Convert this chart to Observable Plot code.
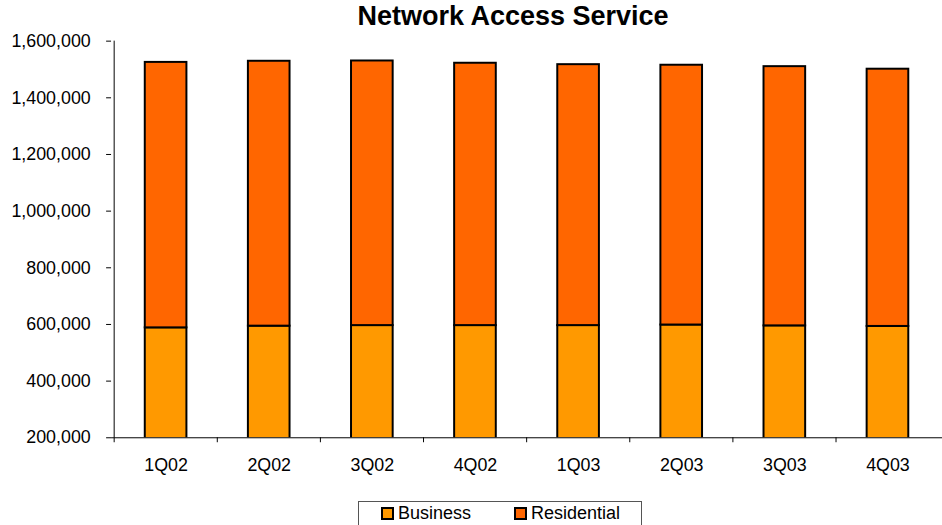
<!DOCTYPE html>
<html>
<head>
<meta charset="utf-8">
<script src="https://cdn.jsdelivr.net/npm/d3@7"></script>
<script src="https://cdn.jsdelivr.net/npm/@observablehq/plot@0.6"></script>
<style>
  html, body { margin: 0; padding: 0; background: #fff; overflow: hidden; width: 942px; height: 525px; }
  body { position: relative; font-family: Arial, "Liberation Sans", sans-serif; }
  #title { position: absolute; left: 313px; top: 1px; width: 400px; text-align: center; font-size: 27px; font-weight: bold; color: #000; white-space: nowrap; }
  #chart { position: absolute; left: 0; top: 0; }
  #legend { position: absolute; left: 358px; top: 501px; width: 284px; height: 30px; border: 1px solid #555; box-sizing: border-box; font-size: 18px; color: #000; }
  .item { position: absolute; top: 1px; display: flex; align-items: center; }
  .sw { width: 9px; height: 9px; border: 2px solid #000; margin-right: 4px; }
</style>
</head>
<body>
<div id="title">Network Access Service</div>
<div id="chart"></div>
<div id="legend"></div>
<script>
const quarters = ["1Q02", "2Q02", "3Q02", "4Q02", "1Q03", "2Q03", "3Q03", "4Q03"];
const business = [588000, 594000, 596000, 596000, 596000, 598000, 595000, 593000];
const residential = [937000, 935000, 934000, 926000, 921000, 917000, 915000, 908000];
const seriesNames = ["Business", "Residential"];
const seriesColors = ["#FF9900", "#FF6600"];
const yTicks = [200000, 400000, 600000, 800000, 1000000, 1200000, 1400000, 1600000];

const data = [];
quarters.forEach((q, i) => {
  data.push({quarter: q, series: "Business", value: business[i]});
  data.push({quarter: q, series: "Residential", value: residential[i]});
});

const W = 950, mL = 112, mR = 0;
const step = (W - mL - mR) / quarters.length;

const chart = Plot.plot({
  width: W,
  height: 495,
  marginLeft: mL,
  marginRight: mR,
  marginTop: 41,
  marginBottom: 54,
  style: {fontFamily: "Arial, 'Liberation Sans', sans-serif", fontSize: "18px", color: "#000", background: "transparent"},
  x: {domain: quarters, paddingInner: 0.6, paddingOuter: 0.3, label: null},
  y: {domain: [200000, 1600000], label: null},
  color: {domain: seriesNames, range: seriesColors},
  marks: [
    Plot.barY(data, Plot.stackY({
      x: "quarter", y: "value", z: "series", order: seriesNames,
      fill: "series", stroke: "#000", strokeWidth: 2, clip: true
    })),
    Plot.axisY({ticks: yTicks, tickFormat: d3.format(","), tickSize: 5, tickPadding: 16, fontSize: 18, stroke: "#000", label: null}),
    Plot.axisX({tickSize: 0, tickPadding: 21, fontSize: 18, label: null}),
    Plot.axisX({tickSize: 5, text: null, dx: -step / 2, stroke: "#000", label: null}),
    Plot.ruleY([200000], {stroke: "#000", strokeWidth: 1}),
    Plot.ruleX([0], {x: () => quarters[0], dx: -step / 2, y1: 200000, y2: 1600000, stroke: "#000", strokeWidth: 1})
  ]
});
document.getElementById("chart").appendChild(chart);

const legend = document.getElementById("legend");
const legendX = [22, 155];
seriesNames.forEach((name, i) => {
  const it = document.createElement("div");
  it.className = "item";
  it.style.left = legendX[i] + "px";
  const sw = document.createElement("span");
  sw.className = "sw";
  sw.style.background = seriesColors[i];
  const tx = document.createElement("span");
  tx.textContent = name;
  it.appendChild(sw);
  it.appendChild(tx);
  legend.appendChild(it);
});
</script>
</body>
</html>
